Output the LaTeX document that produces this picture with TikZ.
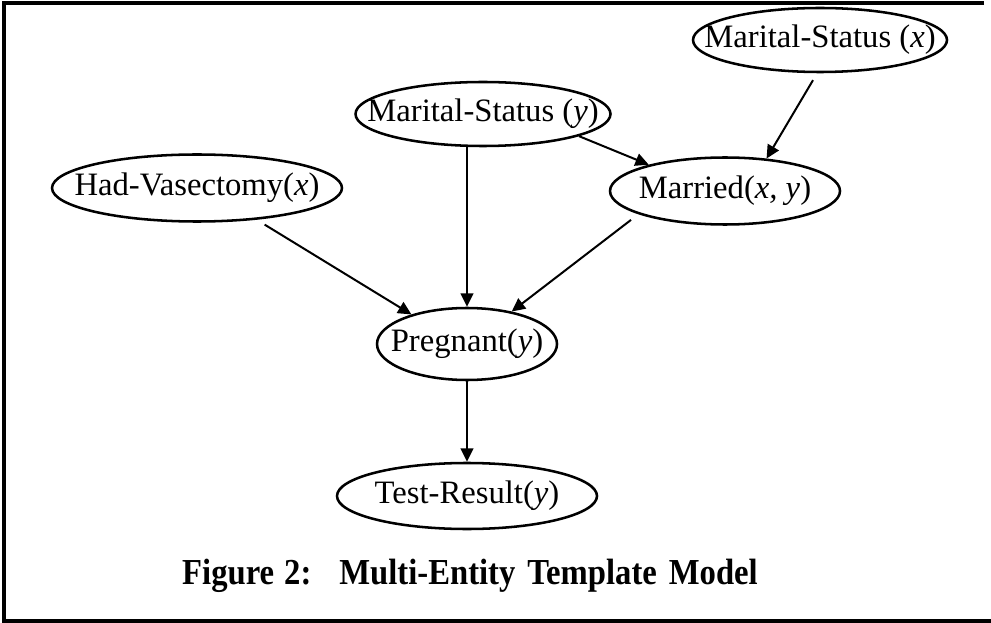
\documentclass[tikz,border=0pt]{standalone}
\usepackage{fontspec}
\setmainfont{Liberation Serif}
\usetikzlibrary{shapes.geometric,arrows.meta}

\tikzset{
  var/.style={draw, line width=1.9pt, ellipse, inner sep=0pt},
  vartext/.style={inner sep=0pt, font=\fontsize{24.5}{28}\selectfont},
  arr/.style={line width=1.5pt, -{Triangle[length=10pt,width=9.5pt]}},
  frameline/.style={line width=2.3pt},
}

\begin{document}
\begin{tikzpicture}[x=0.75pt,y=-0.75pt]
\useasboundingbox (0,0) rectangle (991,623);

% frame (left, top and bottom edges)
\coordinate (ftr) at (984,3);
\coordinate (ftl) at (4,3);
\coordinate (fbl) at (4,621);
\coordinate (fbr) at (991,621);
\draw[frameline] (ftr) -- (ftl) -- (fbl) -- (fbr);

% variables: fixed-size ellipses with their names set on top
\node[var, minimum width=254*0.75pt, minimum height=64*0.75pt] (msx) at (820,40) {};
\node[var, minimum width=255*0.75pt, minimum height=64*0.75pt] (msy) at (483,114) {};
\node[var, minimum width=290*0.75pt, minimum height=67*0.75pt] (hv) at (197,188) {};
\node[var, minimum width=230*0.75pt, minimum height=67*0.75pt] (mar) at (725,191) {};
\node[var, minimum width=180*0.75pt, minimum height=72*0.75pt] (preg) at (467,344) {};
\node[var, minimum width=260*0.75pt, minimum height=66*0.75pt] (test) at (467,496) {};

\node[vartext] (msx-t) at (msx) {Marital-Status (\textit{x})};
\node[vartext] (msy-t) at (msy) {Marital-Status (\textit{y})};
\node[vartext] (hv-t) at (hv) {Had-Vasectomy(\textit{x})};
\node[vartext] (mar-t) at (mar) {Married(\textit{x, y})};
\node[vartext] (preg-t) at (preg) {Pregnant(\textit{y})};
\node[vartext] (test-t) at (test) {Test-Result(\textit{y})};

% dependencies
\draw[arr, shorten <=6pt] (msx.-95) -- (mar.38);
\draw[arr] (msy.-13) -- (mar.161);
\draw[arr] (msy.south -| preg.north) -- (preg.north);
\draw[arr, shorten <=7pt] (hv.-28) -- (preg.152);
\draw[arr, shorten <=7pt] (mar.195) -- (preg.36);
\draw[arr] (preg.south) -- (test.north);

% caption
\node[font=\fontsize{24.5}{28}\selectfont\bfseries] (cap) at (470,576)
  {\scalebox{1}[1.12]{Figure\hspace{7.5pt}2:\hspace{21pt}Multi-Entity\hspace{9pt}Template\hspace{9pt}Model}};
\end{tikzpicture}
\end{document}
